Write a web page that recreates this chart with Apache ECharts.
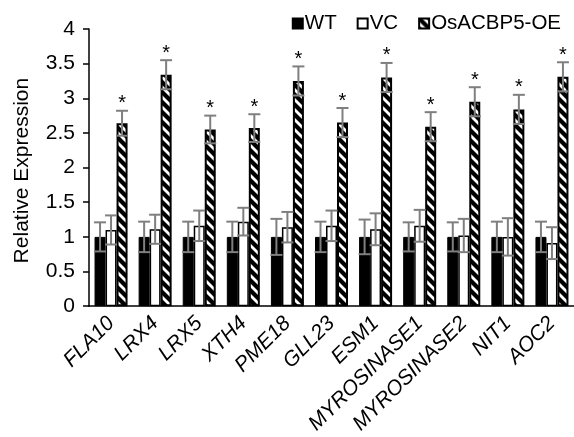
<!DOCTYPE html>
<html>
<head>
<meta charset="utf-8">
<script src="https://cdn.jsdelivr.net/npm/echarts@6/dist/echarts.min.js"></script>
<style>
html,body{margin:0;padding:0;background:#fff;}
#chart{width:574px;height:437px;}
</style>
</head>
<body>
<div id="chart"></div>
<script>
const categories = ['FLA10','LRX4','LRX5','XTH4','PME18','GLL23','ESM1','MYROSINASE1','MYROSINASE2','NIT1','AOC2'];
const seriesNames = ['WT','VC','OsACBP5-OE'];
const wtValues = [1.00,1.00,1.00,1.00,1.00,1.00,1.00,1.00,1.00,1.00,1.00];
const wtErrors = [0.21,0.22,0.22,0.22,0.26,0.22,0.25,0.21,0.21,0.22,0.22];
const vcValues = [1.10,1.11,1.16,1.22,1.14,1.16,1.11,1.16,1.02,1.00,0.91];
const vcErrors = [0.21,0.21,0.22,0.20,0.22,0.22,0.23,0.23,0.24,0.27,0.23];
const oeValues = [2.64,3.34,2.55,2.57,3.25,2.65,3.30,2.59,2.95,2.84,3.31];
const oeErrors = [0.18,0.21,0.20,0.20,0.21,0.21,0.21,0.21,0.21,0.21,0.21];
const significant = [true,true,true,true,true,true,true,true,true,true,true];

const FONT = '"Liberation Sans", Arial, sans-serif';
const BAR_W = 11;

function makeStripePattern() {
  const s = 10;
  const c = document.createElement('canvas');
  c.width = s; c.height = s;
  const ctx = c.getContext('2d');
  ctx.fillStyle = '#fff';
  ctx.fillRect(0, 0, s, s);
  ctx.strokeStyle = '#000';
  ctx.lineWidth = 4.2;
  for (const k of [-s, 0, s]) {
    ctx.beginPath();
    ctx.moveTo(k - 2, -2);
    ctx.lineTo(k + s + 2, s + 2);
    ctx.stroke();
  }
  return c;
}
const stripe = makeStripePattern();

const errData = [];
const groups = [[wtValues, wtErrors], [vcValues, vcErrors], [oeValues, oeErrors]];
groups.forEach((g, s) => {
  g[0].forEach((v, i) => {
    errData.push([i, s, v, g[1][i], (s === 2 && significant[i]) ? 1 : 0]);
  });
});

const chart = echarts.init(document.getElementById('chart'), null, {renderer: 'canvas'});
chart.setOption({
  animation: false,
  backgroundColor: '#fff',
  textStyle: {fontFamily: FONT, color: '#000'},
  legend: {
    top: 8,
    right: 8,
    itemWidth: 10,
    itemHeight: 10,
    itemGap: 20,
    textStyle: {fontFamily: FONT, fontSize: 20.5, color: '#000', padding: [0, 0, 0, -3]},
    data: seriesNames.map(n => ({name: n, icon: 'rect'}))
  },
  grid: {left: 89, right: -6, top: 29, bottom: 128, containLabel: false},
  xAxis: {
    type: 'category',
    data: categories,
    axisLine: {show: true, lineStyle: {color: '#000', width: 1.5}},
    axisTick: {show: false},
    axisLabel: {
      rotate: 45,
      interval: 0,
      margin: 14,
      fontStyle: 'italic',
      fontFamily: FONT,
      fontSize: 21,
      color: '#000'
    }
  },
  yAxis: {
    type: 'value',
    min: 0,
    max: 4,
    interval: 0.5,
    name: 'Relative Expression',
    nameLocation: 'middle',
    nameGap: 56,
    nameTextStyle: {fontFamily: FONT, fontSize: 21, color: '#000', padding: [0, 6, 0, 0]},
    axisLine: {show: true, lineStyle: {color: '#000', width: 1.5}},
    axisTick: {show: true, inside: false, length: 6, lineStyle: {color: '#000', width: 1.5}},
    splitLine: {show: false},
    axisLabel: {fontFamily: FONT, fontSize: 21, color: '#000', margin: 14}
  },
  series: [
    {
      name: 'WT', type: 'bar', data: wtValues, barWidth: BAR_W, barGap: '0%',
      itemStyle: {color: '#000', borderColor: '#000', borderWidth: 1}
    },
    {
      name: 'VC', type: 'bar', data: vcValues, barWidth: BAR_W, barGap: '0%',
      itemStyle: {color: '#fff', borderColor: '#000', borderWidth: 1.5}
    },
    {
      name: 'OsACBP5-OE', type: 'bar', data: oeValues, barWidth: BAR_W, barGap: '0%',
      itemStyle: {color: {image: stripe, repeat: 'repeat'}, borderColor: '#000', borderWidth: 2}
    },
    {
      type: 'custom',
      z: 10,
      silent: true,
      data: errData,
      encode: {x: 0, y: 2},
      renderItem: function (params, api) {
        const i = api.value(0), s = api.value(1), v = api.value(2), e = api.value(3), star = api.value(4);
        const c = api.coord([i, v]);
        const hi = api.coord([i, v + e]);
        const lo = api.coord([i, v - e]);
        const x = c[0] + (s - 1) * BAR_W;
        const half = 6;
        const st = {stroke: '#7f7f7f', lineWidth: 2};
        const children = [
          {type: 'line', shape: {x1: x, y1: lo[1], x2: x, y2: hi[1]}, style: st},
          {type: 'line', shape: {x1: x - half, y1: hi[1], x2: x + half, y2: hi[1]}, style: st},
          {type: 'line', shape: {x1: x - half, y1: lo[1], x2: x + half, y2: lo[1]}, style: st}
        ];
        if (star) {
          children.push({
            type: 'text',
            x: x,
            y: hi[1] + 3,
            style: {text: '*', fontFamily: FONT, fontSize: 20, fill: '#000', align: 'center', verticalAlign: 'bottom'}
          });
        }
        return {type: 'group', children: children};
      }
    }
  ]
});
</script>
</body>
</html>
